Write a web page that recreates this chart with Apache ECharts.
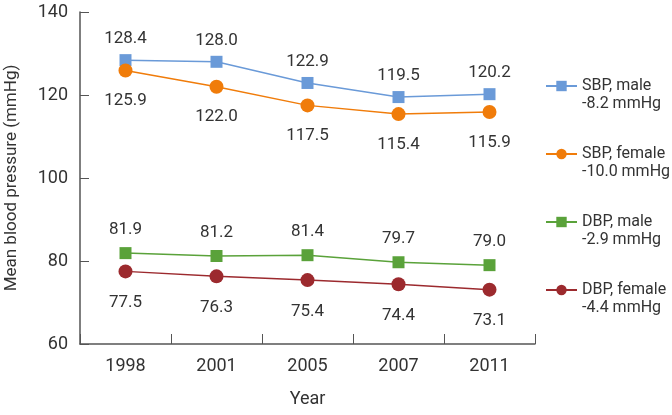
<!DOCTYPE html>
<html>
<head>
<meta charset="utf-8">
<script src="https://cdn.jsdelivr.net/npm/echarts@6/dist/echarts.min.js"></script>
<style>
html,body{margin:0;padding:0;background:#fff;}
#chart{width:672px;height:415px;}
</style>
</head>
<body>
<div id="chart"></div>
<script>
// ---- data ----
var years = ['1998', '2001', '2005', '2007', '2011'];
var sbpMale = [128.4, 128.0, 122.9, 119.5, 120.2];
var sbpFemale = [125.9, 122.0, 117.5, 115.4, 115.9];
var dbpMale = [81.9, 81.2, 81.4, 79.7, 79.0];
var dbpFemale = [77.5, 76.3, 75.4, 74.4, 73.1];
var seriesNames = ['SBP, male', 'SBP, female', 'DBP, male', 'DBP, female'];
var changes = ['-8.2 mmHg', '-10.0 mmHg', '-2.9 mmHg', '-4.4 mmHg'];
var yTicks = [60, 80, 100, 120, 140];

// ---- style ----
var FONT = 'Roboto, "Liberation Sans", sans-serif';
var TEXT = '#333333';
var colors = ['#6a9ad8', '#f07c0a', '#5aa23a', '#9c2a2e'];
var symbols = ['rect', 'circle', 'rect', 'circle'];
var symbolSizes = [12, 14, 12, 14];
var labelPos = ['top', 'bottom', 'top', 'bottom'];
var labelDist = [7, 15, 9, 16];
var allData = [sbpMale, sbpFemale, dbpMale, dbpFemale];

var changeMap = {};
seriesNames.forEach(function (n, i) { changeMap[n] = changes[i]; });

var series = seriesNames.map(function (name, i) {
  return {
    name: name,
    type: 'line',
    data: allData[i],
    symbol: symbols[i],
    symbolSize: symbolSizes[i],
    showAllSymbol: true,
    lineStyle: { color: colors[i], width: 1.5 },
    itemStyle: { color: colors[i] },
    label: {
      show: true,
      position: labelPos[i],
      distance: labelDist[i],
      color: TEXT,
      fontFamily: FONT,
      fontSize: 17,
      formatter: function (p) { return p.value.toFixed(1); }
    },
    emphasis: { disabled: true },
    animation: false
  };
});

var chart = echarts.init(document.getElementById('chart'), null, { renderer: 'canvas' });
chart.setOption({
  backgroundColor: '#ffffff',
  animation: false,
  grid: { left: 80, right: 137, top: 12, bottom: 71, containLabel: false, outerBoundsMode: 'none' },
  legend: {
    orient: 'vertical',
    left: 545,
    top: 59,
    padding: 0,
    itemGap: 14,
    itemWidth: 31,
    itemHeight: 13,
    data: seriesNames,
    selectedMode: false,
    formatter: function (n) { return ' \n' + n + '\n' + changeMap[n]; },
    textStyle: {
      color: TEXT,
      fontFamily: FONT,
      fontSize: 16,
      lineHeight: 18
    }
  },
  xAxis: {
    type: 'category',
    data: years,
    boundaryGap: true,
    name: 'Year',
    nameLocation: 'middle',
    nameGap: 46,
    nameTextStyle: { color: TEXT, fontFamily: FONT, fontSize: 18 },
    axisLine: { show: true, lineStyle: { color: '#555555', width: 1.5 } },
    axisTick: { show: true, inside: true, length: 10, lineStyle: { color: '#555555', width: 1 } },
    axisLabel: { color: TEXT, fontFamily: FONT, fontSize: 18, margin: 13 },
    splitLine: { show: false }
  },
  yAxis: {
    type: 'value',
    min: yTicks[0],
    max: yTicks[yTicks.length - 1],
    interval: 20,
    name: 'Mean blood pressure (mmHg)',
    nameLocation: 'middle',
    nameGap: 60,
    nameTextStyle: { color: TEXT, fontFamily: FONT, fontSize: 17 },
    axisLine: { show: true, lineStyle: { color: '#555555', width: 1.5 } },
    axisTick: { show: true, inside: true, length: 9, lineStyle: { color: '#555555', width: 1 } },
    axisLabel: { color: TEXT, fontFamily: FONT, fontSize: 18, margin: 12 },
    splitLine: { show: false }
  },
  series: series
});
</script>
</body>
</html>
